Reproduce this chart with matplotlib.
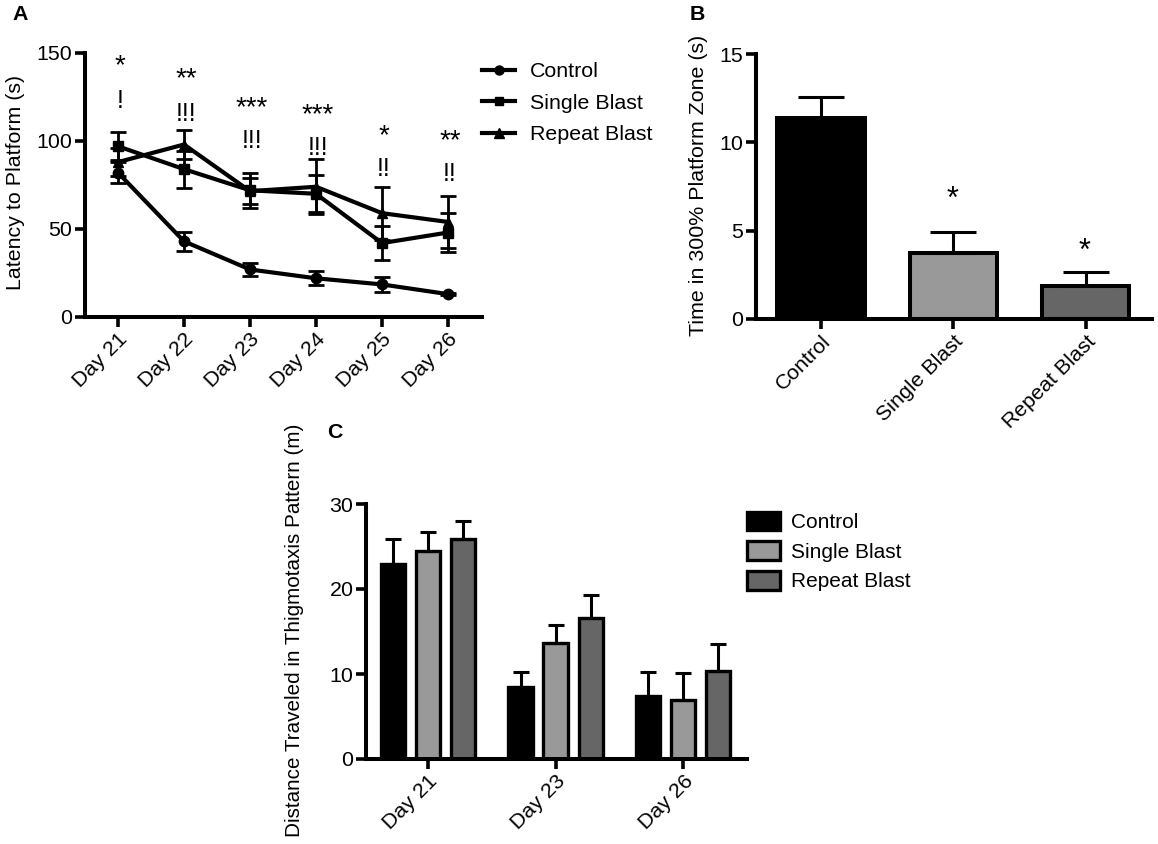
""" Blast exposure panels: water maze latency, platform zone time, thigmotaxis """

import matplotlib
matplotlib.use('Agg')
import numpy as np
import matplotlib.pyplot as plt
from matplotlib.lines import Line2D
from matplotlib.patches import Patch

plt.rcParams['font.family'] = ['Liberation Sans', 'DejaVu Sans']
plt.rcParams['font.size'] = 15.4

groups = ['Control', 'Single Blast', 'Repeat Blast']
bar_colors = ['#000000', '#999999', '#666666']

days_a = ['Day 21', 'Day 22', 'Day 23', 'Day 24', 'Day 25', 'Day 26']
control_a = [82, 43, 27, 22, 18.5, 13]
control_a_err = [6, 5.5, 3.5, 4, 4.5, 0.5]
single_a = [97, 84, 72, 70, 42, 48]
single_a_err = [8, 10.5, 10, 10.5, 9.5, 11]
repeat_a = [88, 98, 71.5, 74, 59, 54]
repeat_a_err = [8, 8, 7.5, 15.5, 15, 15]
stars_a = ['*', '**', '***', '***', '*', '**']
stars_a_y = [142.5, 135, 118.5, 114.5, 102.5, 100]
bangs_a = ['!', '!!!', '!!!', '!!!', '!!', '!!']
bangs_a_y = [123, 115.5, 100, 96, 84, 81]

time_b = [11.4, 3.75, 1.85]
time_b_err = [1.15, 1.15, 0.8]
stars_b = ['', '*', '*']
stars_b_y = [0, 6.72, 3.82]

days_c = ['Day 21', 'Day 23', 'Day 26']
control_c = [23, 8.5, 7.4]
control_c_err = [2.9, 1.7, 2.8]
single_c = [24.5, 13.7, 6.9]
single_c_err = [2.2, 2.1, 3.2]
repeat_c = [25.9, 16.6, 10.4]
repeat_c_err = [2.1, 2.7, 3.1]

W, H = 1158, 844


def add_axes(fig, left, right, top, bottom):
    return fig.add_axes([left / W, 1 - bottom / H, (right - left) / W, (bottom - top) / H])


def style_axes(ax):
    for side in ['top', 'right']:
        ax.spines[side].set_visible(False)
    for side in ['left', 'bottom']:
        ax.spines[side].set_linewidth(2.9)
    ax.tick_params(width=2.6, length=7, pad=2)
    ax.patch.set_alpha(0)


fig = plt.figure(figsize=(W / 100, H / 100), dpi=100)

# panel A
ax = add_axes(fig, 85, 482, 53, 317)
style_axes(ax)
x = np.arange(len(days_a))
series = [(control_a, control_a_err, 'o', 7.5), (single_a, single_a_err, 's', 7), (repeat_a, repeat_a_err, '^', 7.5)]
handles = []
for vals, errs, marker, ms in series:
    ax.errorbar(x, vals, yerr=errs, color='black', lw=3, marker=marker, ms=ms,
                elinewidth=2, capsize=5.5, capthick=2, clip_on=False)
    handles.append(Line2D([], [], color='black', lw=3, marker=marker, ms=ms - 1))
ax.set_xlim(-0.5, 5.515)
ax.set_ylim(0, 150)
ax.set_yticks([0, 50, 100, 150])
ax.set_xticks(x)
ax.set_xticklabels(days_a, rotation=45, ha='right', rotation_mode='anchor')
ax.set_ylabel('Latency to Platform (s)')
ax.yaxis.set_label_coords(-0.152, 0.51)
for i in range(len(days_a)):
    ax.text(i + 0.03, stars_a_y[i], stars_a[i], ha='center', va='center', fontsize=20)
    ax.text(i + 0.03, bangs_a_y[i], bangs_a[i], ha='center', va='center', fontsize=18)
ax.legend(handles, groups, loc='upper left', bbox_to_anchor=(1.0, 0.965), frameon=False, handlelength=1.55,
          handletextpad=0.7, labelspacing=0.58, borderpad=0, borderaxespad=0)

# panel B
ax = add_axes(fig, 756, 1152, 54, 319)
style_axes(ax)
x = np.arange(len(groups))
ax.bar(x, time_b, width=0.66, color=bar_colors, edgecolor='black', linewidth=2.9,
       yerr=[np.zeros(3), time_b_err], capsize=16.5, error_kw={'elinewidth': 2.2, 'capthick': 2.2, 'ecolor': 'black'})
ax.set_xlim(-0.49, 2.5)
ax.set_ylim(0, 15)
ax.set_yticks([0, 5, 10, 15])
ax.set_xticks(x)
ax.set_xticklabels(groups, rotation=45, ha='right', rotation_mode='anchor')
ax.set_ylabel('Time in 300% Platform Zone (s)')
ax.yaxis.set_label_coords(-0.122, 0.506)
for i in range(len(groups)):
    ax.text(i - 0.01, stars_b_y[i], stars_b[i], ha='center', va='center', fontsize=22)

# panel C
ax = add_axes(fig, 366, 747, 504, 759)
style_axes(ax)
x = np.arange(len(days_c))
offsets = [-0.2745, 0, 0.2745]
series = [(control_c, control_c_err), (single_c, single_c_err), (repeat_c, repeat_c_err)]
for (vals, errs), off, color in zip(series, offsets, bar_colors):
    ax.bar(x + off, vals, width=0.19, color=color, edgecolor='black', linewidth=2.4,
           yerr=[np.zeros(3), errs], capsize=5.5, error_kw={'elinewidth': 2.2, 'capthick': 2.2, 'ecolor': 'black'})
ax.set_xlim(-0.486, 2.5)
ax.set_ylim(0, 30)
ax.set_yticks([0, 10, 20, 30])
ax.set_xticks(x)
ax.set_xticklabels(days_c, rotation=45, ha='right', rotation_mode='anchor')
ax.set_ylabel('Distance Traveled in Thigmotaxis Pattern (m)', fontsize=14.9)
ax.yaxis.set_label_coords(-0.163, 0.506)
handles = [Patch(facecolor=c, edgecolor='black', linewidth=2.4) for c in bar_colors]
ax.legend(handles, groups, loc='upper left', bbox_to_anchor=(1.0, 0.97), frameon=False, handlelength=1.6,
          handleheight=1.0, handletextpad=0.5, labelspacing=0.44, borderpad=0, borderaxespad=0, fontsize=15)

fig.text(12 / W, 1 - 15 / H, 'A', fontweight='bold', fontsize=15.4, va='center')
fig.text(690 / W, 1 - 14 / H, 'B', fontweight='bold', fontsize=15.4, va='center')
fig.text(327 / W, 1 - 433 / H, 'C', fontweight='bold', fontsize=15.4, va='center')

fig.savefig('out.png', dpi=100)
